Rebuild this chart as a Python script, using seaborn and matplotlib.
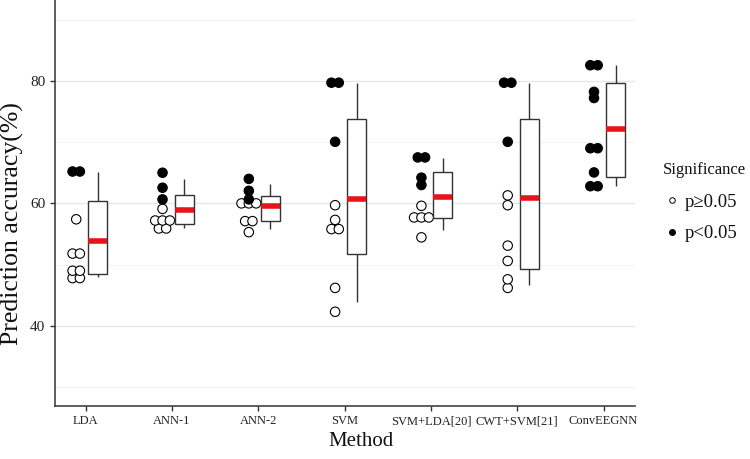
import numpy as np
import pandas as pd
import seaborn as sns
import matplotlib.pyplot as plt
from matplotlib.lines import Line2D

sns.set_theme(style="white")
plt.rcParams['font.family'] = ['Liberation Serif', 'DejaVu Serif']

# ---------------- data ----------------
methods = ["LDA", "ANN-1", "ANN-2", "SVM", "SVM+LDA[20]", "CWT+SVM[21]", "ConvEEGNN"]

lda_values = [65.2, 65.2, 57.4, 51.8, 51.8, 49.0, 49.0, 47.8, 47.8]
lda_sig = [1, 1, 0, 0, 0, 0, 0, 0, 0]
ann1_values = [65.0, 62.55, 60.65, 59.1, 57.2, 57.2, 57.2, 55.9, 55.9]
ann1_sig = [1, 1, 1, 0, 0, 0, 0, 0, 0]
ann2_values = [64.0, 62.05, 60.65, 60.0, 60.0, 60.0, 57.1, 57.1, 55.3]
ann2_sig = [1, 1, 1, 0, 0, 0, 0, 0, 0]
svm_values = [79.7, 79.7, 70.05, 59.7, 57.3, 55.8, 55.8, 46.2, 42.3]
svm_sig = [1, 1, 1, 0, 0, 0, 0, 0, 0]
svmlda_values = [67.5, 67.5, 64.2, 63.0, 59.6, 57.7, 57.7, 57.7, 54.45]
svmlda_sig = [1, 1, 1, 1, 0, 0, 0, 0, 0]
cwt_values = [79.7, 79.7, 70.05, 61.3, 59.7, 53.1, 50.6, 47.6, 46.2]
cwt_sig = [1, 1, 1, 0, 0, 0, 0, 0, 0]
conv_values = [82.55, 82.55, 78.2, 77.2, 69.0, 69.0, 65.05, 62.8, 62.8]
conv_sig = [1, 1, 1, 1, 1, 1, 1, 1, 1]

# box-plot summaries (lower whisker, Q1, median, Q3, upper whisker)
box_low = [47.9, 56.0, 55.8, 43.9, 55.6, 46.7, 62.8]
box_q1 = [48.4, 56.6, 57.1, 51.8, 57.6, 49.3, 64.3]
box_med = [53.8, 58.9, 59.5, 60.75, 61.0, 60.9, 72.1]
box_q3 = [60.4, 61.4, 61.2, 73.7, 65.2, 73.75, 79.7]
box_high = [65.1, 63.9, 63.15, 79.7, 67.4, 79.7, 82.55]

sig_labels = ["p\u22650.05", "p<0.05"]

# ---------------- layout constants ----------------
DOT_OFFSET = -0.11
BOX_OFFSET = 0.14
DOT_STEP = 0.085

all_values = [lda_values, ann1_values, ann2_values, svm_values,
              svmlda_values, cwt_values, conv_values]
all_sig = [lda_sig, ann1_sig, ann2_sig, svm_sig, svmlda_sig, cwt_sig, conv_sig]

rows = []
for i, (vals, sigs) in enumerate(zip(all_values, all_sig)):
    vals = np.asarray(vals)
    for v in np.unique(vals):
        idx = np.where(vals == v)[0]
        n = len(idx)
        for k, j in enumerate(idx):
            rows.append({"method": methods[i],
                         "x": i + DOT_OFFSET + (k - (n - 1) / 2) * DOT_STEP,
                         "value": v,
                         "sig": sig_labels[sigs[j]]})
dots = pd.DataFrame(rows)

box_rows = []
for i in range(len(methods)):
    for v in (box_low[i], box_q1[i], box_med[i], box_q3[i], box_high[i]):
        box_rows.append({"x": i + BOX_OFFSET, "value": v})
boxes = pd.DataFrame(box_rows)

# ---------------- figure ----------------
fig = plt.figure(figsize=(7.5, 4.59), dpi=100)
ax = fig.add_axes([55 / 750, 53.5 / 459, 580 / 750, 405.5 / 459])

sns.scatterplot(data=dots, x="x", y="value", hue="sig",
                palette={sig_labels[0]: "white", sig_labels[1]: "black"},
                edgecolor="black", linewidth=0.8, s=46, legend=False,
                ax=ax, zorder=3)

sns.boxplot(data=boxes, x="x", y="value", orient="x", native_scale=True,
            width=0.22, whis=np.inf, color="white", linecolor="#333333",
            linewidth=1.0,
            medianprops=dict(color="#e8141c", linewidth=4.0, solid_capstyle="butt"),
            capprops=dict(visible=False), ax=ax, zorder=4)

ax.set_xlim(-0.356, 6.365)
ax.set_ylim(27.0, 93.2)
ax.set_xticks(range(len(methods)))
ax.set_xticklabels(methods, fontsize=9, color="#222222")
ax.set_yticks([40, 60, 80])
ax.set_yticklabels(["40", "60", "80"], fontsize=11, color="#222222")
ax.set_yticks([30, 50, 70, 90], minor=True)
ax.grid(False)
ax.grid(which="major", axis="y", color="#e6e6e6", linewidth=0.9)
ax.grid(which="minor", axis="y", color="#f0f0f0", linewidth=0.6)
ax.set_axisbelow(True)
ax.tick_params(axis="both", which="major", length=3.5, width=1.0,
               color="#333333", pad=3.5, bottom=True, left=True)
ax.tick_params(axis="both", which="minor", length=0)
for side in ("top", "right"):
    ax.spines[side].set_visible(False)
for side in ("left", "bottom"):
    ax.spines[side].set_color("#333333")
    ax.spines[side].set_linewidth(1.1)
ax.set_xlabel("")
ax.set_ylabel("")

fig.text(12 / 750, 1 - 224 / 459, "Prediction accuracy(%)", rotation=90,
         ha="center", va="center", fontsize=18.5, color="#111111")
fig.text(361 / 750, 1 - 441 / 459, "Method", ha="center", va="center",
         fontsize=15, color="#111111")

# legend
fig.text(663 / 750, 1 - 170 / 459, "Significance", ha="left", va="center",
         fontsize=12, color="#111111")
handles = [Line2D([], [], linestyle="none", marker="o", markersize=4,
                  markerfacecolor="white", markeredgecolor="black", markeredgewidth=0.7),
           Line2D([], [], linestyle="none", marker="o", markersize=4,
                  markerfacecolor="black", markeredgecolor="black")]
leg = fig.legend(handles, sig_labels, loc="center left",
                 bbox_to_anchor=(664 / 750, 1 - 218 / 459), frameon=False,
                 fontsize=13.5, handlelength=0.8, borderpad=0, borderaxespad=0,
                 handletextpad=0.3, labelspacing=0.75)
for t in leg.get_texts():
    t.set_color("#111111")

fig.savefig("out.png", dpi=100)
